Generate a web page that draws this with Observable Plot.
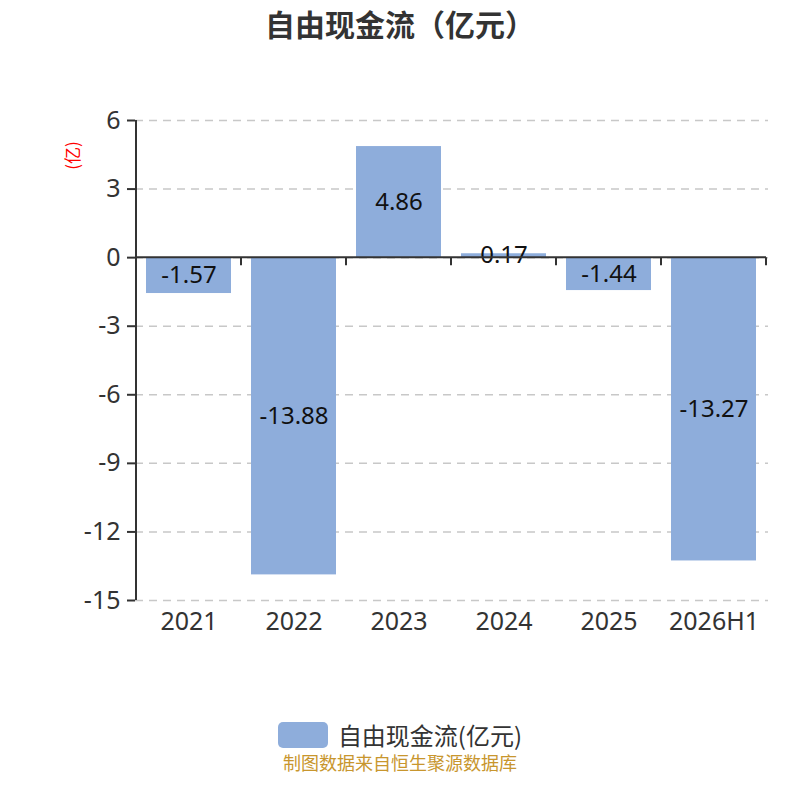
<!DOCTYPE html>
<html>
<head>
<meta charset="utf-8">
<script src="https://cdn.jsdelivr.net/npm/d3@7"></script>
<script src="https://cdn.jsdelivr.net/npm/@observablehq/plot@0.6"></script>
<style>
  body { margin: 0; background: #fff; font-family: "Noto Sans", "Noto Sans CJK SC", sans-serif; }
  #wrap { width: 800px; }
  #title { height: 50px; line-height: 46px; text-align: center; font-size: 30px; font-weight: bold; color: #333; font-family: "Noto Sans CJK SC", sans-serif; }
  #legend { margin-top: 71px; height: 28px; line-height: 28px; display: flex; justify-content: center; align-items: center; gap: 10px; font-size: 24px; color: #333; font-family: "Noto Sans CJK SC", sans-serif; }
  #legend .sw { width: 50px; height: 26px; border-radius: 5px; background: #8EADDB; }
  #footer { margin-top: 2px; height: 22px; text-align: center; font-size: 18px; line-height: 22px; color: #C8962E; font-family: "Noto Sans CJK SC", sans-serif; }
</style>
</head>
<body>
<div id="wrap">
  <div id="title">自由现金流（亿元）</div>
  <div id="chart"></div>
  <div id="legend"><div class="sw"></div><div>自由现金流(亿元)</div></div>
  <div id="footer">制图数据来自恒生聚源数据库</div>
</div>
<script>
const categories = ["2021", "2022", "2023", "2024", "2025", "2026H1"];
const values = [-1.57, -13.88, 4.86, 0.17, -1.44, -13.27];
const labels = ["-1.57", "-13.88", "4.86", "0.17", "-1.44", "-13.27"];
const yTicks = [6, 3, 0, -3, -6, -9, -12, -15];

const data = categories.map((c, i) => ({cat: c, value: values[i], label: labels[i]}));

// axis lines and band-boundary ticks drawn from Plot's own scales
function axisLines(index, scales) {
  const x = scales.x, y = scales.y;
  const bw = x.bandwidth(), step = x.step();
  const g = d3.create("svg:g");
  const y0 = y(0);
  const [yTop, yBot] = [y(d3.max(yTicks)), y(d3.min(yTicks))];
  const left = x(categories[0]) - (step - bw) / 2;
  const right = x(categories[categories.length - 1]) + bw + (step - bw) / 2;
  g.append("line").attr("x1", left).attr("x2", left).attr("y1", yTop).attr("y2", yBot)
    .attr("stroke", "#333").attr("stroke-width", 2);
  g.append("line").attr("x1", left).attr("x2", right).attr("y1", y0).attr("y2", y0)
    .attr("stroke", "#333").attr("stroke-width", 2);
  const bounds = categories.map(c => x(c) - (step - bw) / 2).concat([right]);
  for (const bx of bounds.slice(1)) {
    g.append("line").attr("x1", bx).attr("x2", bx).attr("y1", y0).attr("y2", y0 + 8)
      .attr("stroke", "#333").attr("stroke-width", 2);
  }
  return g.node();
}

const chart = Plot.plot({
  width: 800,
  height: 600,
  marginTop: 70,
  marginBottom: 50,
  marginLeft: 135,
  marginRight: 32,
  style: {fontFamily: '"Noto Sans", "Noto Sans CJK SC", sans-serif', background: "#fff"},
  x: {domain: categories, paddingInner: 0.19, paddingOuter: 0.095},
  y: {domain: [-15, 6]},
  marks: [
    Plot.gridY(yTicks, {stroke: "#c8c8c8", strokeOpacity: 1, strokeDasharray: "8,6", strokeWidth: 1.5}),
    Plot.barY(data, {x: "cat", y: "value", fill: "#8EADDB"}),
    Plot.text(data, {x: "cat", y: d => d.value / 2, text: "label", fontSize: 24, fill: "#111"}),
    Plot.axisY(yTicks, {tickFormat: d => String(d), tickSize: 8, tickPadding: 7, fontSize: 25, color: "#333", strokeWidth: 2, label: null}),
    Plot.axisX({tickSize: 0, tickPadding: 12, fontSize: 25, color: "#333", label: null}),
    axisLines,
    Plot.text(["(亿)"], {frameAnchor: "top-left", textAnchor: "middle", lineAnchor: "middle", dx: -62, dy: 35, rotate: -90, fill: "red", fontSize: 17, fontFamily: '"Noto Sans CJK SC", sans-serif'})
  ]
});
document.getElementById("chart").appendChild(chart);
</script>
</body>
</html>
